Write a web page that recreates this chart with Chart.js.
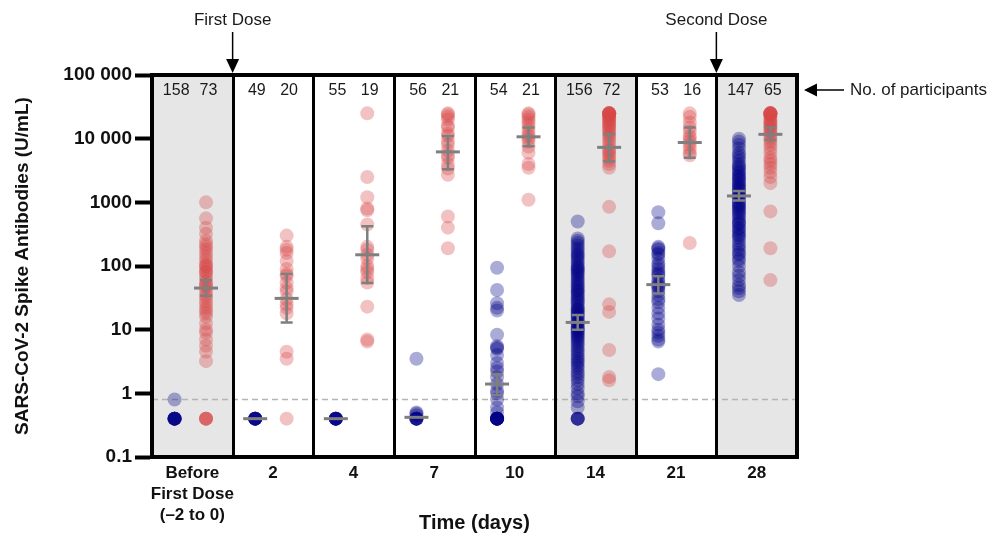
<!DOCTYPE html>
<html><head><meta charset="utf-8">
<script src="https://cdn.jsdelivr.net/npm/chart.js@4.4.1/dist/chart.umd.min.js"></script>
<style>html,body{margin:0;padding:0;background:#fff;}#wrap{width:988px;height:533px;position:relative;}</style>
</head><body><div id="wrap"><canvas id="c" width="988" height="533"></canvas></div>
<script>
// ---- data ----
const timeLabels = [['Before','First Dose','(\u20132 to 0)'], '2', '4', '7', '10', '14', '21', '28'];
const naiveCounts = [158, 49, 55, 56, 54, 156, 53, 147];
const priorCounts = [73, 20, 19, 21, 21, 72, 16, 65];
const yTickValues = [0.1, 1, 10, 100, 1000, 10000, 100000];
const lodValue = 0.8;
const shadedPanels = [0, 5, 7];

const naiveValues = [
  [0.8, 0.4, 0.4, 0.4, 0.4, 0.4, 0.4, 0.4, 0.4],
  [0.4, 0.4, 0.4, 0.4, 0.4, 0.4, 0.4, 0.4],
  [0.4, 0.4, 0.4, 0.4, 0.4, 0.4, 0.4, 0.4],
  [3.5, 0.5, 0.48, 0.45, 0.4, 0.4, 0.4, 0.4, 0.4, 0.4],
  [94, 42, 26, 22, 20, 8.3, 5.5, 5.2, 5, 4, 3, 2.5, 2.2, 1.8, 1.4, 1.1, 1, 0.8, 0.6, 0.5, 0.4, 0.4, 0.4, 0.4, 0.4, 0.4, 0.4, 0.4, 0.4, 0.4],
  [500, 270, 250, 230, 210, 190, 175, 160, 150, 140, 130, 120, 110, 100, 95, 90, 85, 80, 75, 70, 65, 60, 56, 52, 48, 45, 42, 40, 37, 35, 32, 30, 28, 26, 24, 22, 21, 20, 19, 18, 17, 16, 15, 14, 13, 12.5, 12, 11, 10.5, 10, 9.5, 9, 8.5, 8, 7.5, 7, 6.5, 6, 5.5, 5, 4.6, 4.2, 3.8, 3.5, 3.2, 3, 2.7, 2.5, 2.2, 2, 1.8, 1.6, 1.4, 1.2, 1, 0.9, 0.75, 0.6, 0.4, 0.4, 0.4, 0.4],
  [700, 470, 200, 190, 180, 160, 150, 130, 110, 100, 90, 80, 75, 70, 60, 55, 50, 48, 45, 40, 35, 30, 27, 22, 18, 15, 12, 10, 9, 8, 7, 6.5, 2],
  [10000, 9000, 8000, 7000, 6000, 5500, 5000, 4500, 4000, 3700, 3500, 3200, 3000, 2800, 2600, 2500, 2300, 2200, 2000, 1900, 1800, 1700, 1600, 1500, 1400, 1300, 1250, 1200, 1100, 1000, 950, 900, 850, 800, 750, 700, 650, 600, 550, 500, 470, 450, 400, 380, 350, 320, 300, 280, 250, 220, 200, 180, 160, 150, 130, 120, 100, 80, 70, 60, 50, 45, 40, 35]
];
const priorValues = [
  [1000, 560, 400, 320, 250, 220, 200, 180, 160, 140, 125, 110, 100, 100, 90, 80, 80, 70, 63, 56, 50, 50, 45, 40, 35, 32, 28, 25, 22, 20, 18, 16, 12.5, 10, 9, 7, 5.6, 4.5, 3.2, 0.4, 0.4, 0.4, 0.4],
  [300, 200, 180, 160, 120, 90, 75, 70, 55, 45, 40, 30, 25, 22, 18, 4.5, 3.5, 0.4],
  [25000, 2500, 1200, 800, 750, 450, 200, 180, 150, 130, 100, 90, 80, 65, 55, 23, 7, 6.5],
  [25000, 24000, 22000, 20000, 16000, 15000, 12000, 11000, 9000, 8000, 6500, 5500, 5000, 4000, 3400, 2700, 600, 400, 190],
  [25000, 24000, 22000, 20000, 18000, 16000, 14000, 12000, 11000, 10000, 9000, 7500, 6000, 4000, 3500, 1100],
  [25000, 25000, 25000, 25000, 25000, 25000, 24000, 23000, 22000, 21000, 20000, 19000, 18000, 17000, 16000, 15000, 14000, 13000, 12000, 11000, 10000, 9000, 8000, 7000, 6500, 6000, 5500, 5000, 4500, 4000, 3500, 850, 170, 25, 19, 4.8, 1.8, 1.6],
  [25000, 22000, 18000, 15000, 13000, 11000, 10000, 9000, 8000, 7000, 6000, 5500, 230],
  [25000, 25000, 25000, 25000, 25000, 25000, 24000, 23000, 22000, 20000, 19000, 18000, 17000, 16000, 15000, 14000, 13000, 12000, 11000, 10000, 9000, 8000, 7000, 6000, 5000, 4500, 4000, 3500, 3000, 2500, 2000, 720, 190, 60]
];
const naiveMean = [null, 0.4, 0.4, 0.42, 1.4, 13, 51, 1260];
const naiveLow  = [null, null, null, null, 0.93, 10, 37, 1070];
const naiveHigh = [null, null, null, null, 2.0, 17, 69, 1500];
const priorMean = [45, 31, 150, 6200, 10700, 7300, 8700, 11700];
const priorLow  = [34, 13, 54, 3300, 7600, 4400, 5000, 9500];
const priorHigh = [60, 75, 420, 11000, 15000, 11700, 15000, 15000];

// ---- build ----
const NAIVE_OFF = 0.28, PRIOR_OFF = 0.67;
const naivePts = [], priorPts = [];
naiveValues.forEach((arr, i) => arr.forEach(v => naivePts.push({x: i + NAIVE_OFF, y: v})));
priorValues.forEach((arr, i) => arr.forEach(v => priorPts.push({x: i + PRIOR_OFF, y: v})));

const FONT = "'Liberation Sans', Arial, Helvetica, sans-serif";

const decor = {
  id: 'decor',
  beforeDraw(chart) {
    const {ctx, chartArea: a, scales: {x, y}} = chart;
    ctx.save();
    ctx.fillStyle = '#fff';
    ctx.fillRect(0, 0, chart.width, chart.height);
    ctx.fillStyle = '#e6e6e6';
    shadedPanels.forEach(i => {
      const l = x.getPixelForValue(i), r = x.getPixelForValue(i + 1);
      ctx.fillRect(l, a.top, r - l, a.bottom - a.top);
    });
    const yl = y.getPixelForValue(lodValue);
    ctx.strokeStyle = '#b5b5b5';
    ctx.lineWidth = 1.5;
    ctx.setLineDash([6, 4]);
    ctx.beginPath(); ctx.moveTo(a.left, yl); ctx.lineTo(a.right, yl); ctx.stroke();
    ctx.restore();
  },
  beforeDatasetsDraw(chart) {
    const {ctx, chartArea: a, scales: {x}} = chart;
    ctx.save();
    ctx.strokeStyle = '#000';
    ctx.lineWidth = 3;
    for (let i = 1; i < timeLabels.length; i++) {
      const px = Math.round(x.getPixelForValue(i)) + 0.5;
      ctx.beginPath(); ctx.moveTo(px, a.top); ctx.lineTo(px, a.bottom); ctx.stroke();
    }
    ctx.lineWidth = 4;
    ctx.beginPath();
    ctx.moveTo(a.left - 2, a.top); ctx.lineTo(a.right, a.top); ctx.lineTo(a.right, a.bottom + 2);
    ctx.stroke();
    ctx.restore();
  },
  afterDatasetsDraw(chart) {
    const {ctx, chartArea: a, scales: {x, y}} = chart;
    ctx.save();
    ctx.strokeStyle = '#7f7f7f';
    ctx.lineWidth = 3;
    const bar = (cx, m, lo, hi) => {
      if (m == null) return;
      const ym = y.getPixelForValue(m);
      ctx.beginPath(); ctx.moveTo(cx - 12, ym); ctx.lineTo(cx + 12, ym); ctx.stroke();
      if (lo == null || hi == null) return;
      const yl = y.getPixelForValue(lo), yh = y.getPixelForValue(hi);
      ctx.lineWidth = 2.5;
      ctx.beginPath(); ctx.moveTo(cx, yh); ctx.lineTo(cx, yl);
      ctx.moveTo(cx - 6, yh); ctx.lineTo(cx + 6, yh);
      ctx.moveTo(cx - 6, yl); ctx.lineTo(cx + 6, yl);
      ctx.stroke();
      ctx.lineWidth = 3;
    };
    for (let i = 0; i < timeLabels.length; i++) {
      bar(x.getPixelForValue(i + NAIVE_OFF), naiveMean[i], naiveLow[i], naiveHigh[i]);
      bar(x.getPixelForValue(i + PRIOR_OFF), priorMean[i], priorLow[i], priorHigh[i]);
    }
    ctx.fillStyle = '#1a1a1a';
    ctx.font = '16px ' + FONT;
    ctx.textAlign = 'center';
    ctx.textBaseline = 'middle';
    for (let i = 0; i < timeLabels.length; i++) {
      ctx.fillText(String(naiveCounts[i]), x.getPixelForValue(i + 0.3), a.top + 16);
      ctx.fillText(String(priorCounts[i]), x.getPixelForValue(i + 0.7), a.top + 16);
    }
    ctx.restore();
  },
  afterDraw(chart) {
    const {ctx, chartArea: a, scales: {x}} = chart;
    ctx.save();
    ctx.fillStyle = '#1a1a1a';
    ctx.strokeStyle = '#000';
    ctx.font = '17px ' + FONT;
    ctx.textAlign = 'center';
    ctx.textBaseline = 'middle';
    const dose = (val, text) => {
      const px = x.getPixelForValue(val);
      ctx.fillText(text, px, 20);
      ctx.lineWidth = 1.5;
      ctx.beginPath(); ctx.moveTo(px, 32); ctx.lineTo(px, 61); ctx.stroke();
      ctx.fillStyle = '#000';
      ctx.beginPath(); ctx.moveTo(px - 6.5, 59); ctx.lineTo(px + 6.5, 59); ctx.lineTo(px, a.top - 2); ctx.closePath(); ctx.fill();
      ctx.fillStyle = '#1a1a1a';
    };
    dose(1, 'First Dose');
    dose(7, 'Second Dose');
    const ty = a.top + 15;
    ctx.fillStyle = '#000';
    ctx.beginPath(); ctx.moveTo(a.right + 7, ty); ctx.lineTo(a.right + 20, ty - 6.5); ctx.lineTo(a.right + 20, ty + 6.5); ctx.closePath(); ctx.fill();
    ctx.lineWidth = 1.5;
    ctx.beginPath(); ctx.moveTo(a.right + 18, ty); ctx.lineTo(a.right + 47, ty); ctx.stroke();
    ctx.fillStyle = '#1a1a1a';
    ctx.textAlign = 'left';
    ctx.fillText('No. of participants', a.right + 53, ty);
    ctx.restore();
  }
};

new Chart(document.getElementById('c'), {
  type: 'scatter',
  data: {
    datasets: [
      {label: 'No previous infection', data: naivePts, backgroundColor: 'rgba(0,0,135,0.33)', borderWidth: 0, pointRadius: 7, pointHoverRadius: 7},
      {label: 'Previous infection', data: priorPts, backgroundColor: 'rgba(215,70,70,0.33)', borderWidth: 0, pointRadius: 7, pointHoverRadius: 7}
    ]
  },
  options: {
    responsive: false,
    animation: false,
    devicePixelRatio: 1,
    events: [],
    layout: {padding: {top: 75, right: 191, left: 0, bottom: 0}},
    plugins: {legend: {display: false}, tooltip: {enabled: false}},
    scales: {
      x: {
        type: 'linear', min: 0, max: 8,
        afterBuildTicks: s => { s.ticks = timeLabels.map((_, i) => ({value: i + 0.5})); },
        afterFit: s => { s.height = 76; },
        ticks: {
          autoSkip: false, maxRotation: 0, padding: 6,
          color: '#111',
          font: {family: FONT, size: 17, weight: 'bold', lineHeight: 1.22},
          callback: (v) => timeLabels[Math.round(v - 0.5)]
        },
        grid: {display: true, drawOnChartArea: false, drawTicks: false},
        border: {display: true, color: '#000', width: 4},
        title: {display: true, text: 'Time (days)', color: '#111', font: {family: FONT, size: 20, weight: 'bold'}, padding: {top: 0, bottom: -2}}
      },
      y: {
        type: 'logarithmic', min: 0.1, max: 100000,
        afterBuildTicks: s => { s.ticks = yTickValues.map(v => ({value: v})); },
        afterFit: s => { s.width = 152; },
        ticks: {
          autoSkip: false, padding: 3, color: '#111',
          font: {family: FONT, size: 19, weight: 'bold'},
          callback: v => v >= 10000 ? String(v).replace(/(\d)(?=(\d{3})+$)/g, '$1 ') : String(v)
        },
        grid: {drawOnChartArea: false, drawTicks: true, tickLength: 17, tickWidth: 4, tickColor: '#000', color: '#000'},
        border: {display: true, color: '#000', width: 4},
        title: {display: true, text: 'SARS-CoV-2 Spike Antibodies (U/mL)', color: '#111', font: {family: FONT, size: 19, weight: 'bold'}, padding: {top: 11, bottom: 0}}
      }
    }
  },
  plugins: [decor]
});
</script>
</body></html>
